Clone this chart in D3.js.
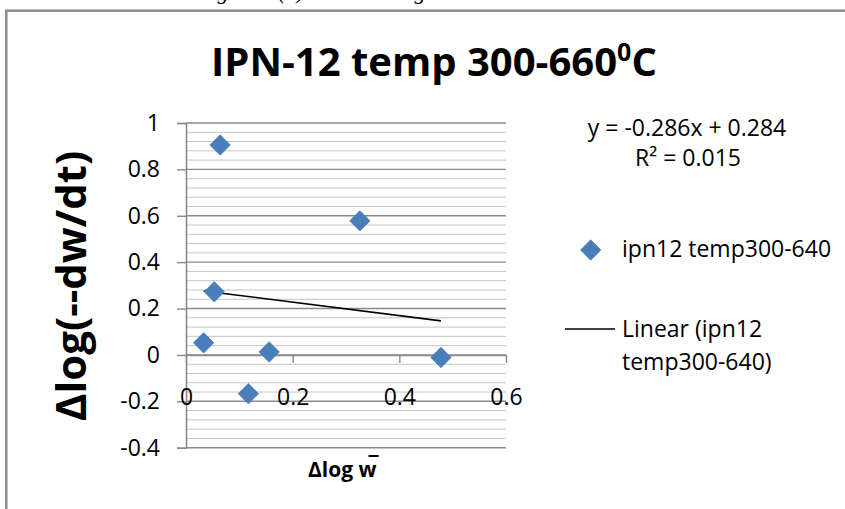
<!DOCTYPE html>
<html>
<head>
<meta charset="utf-8">
<script src="https://cdn.jsdelivr.net/npm/d3@7"></script>
<style>
  html, body { margin: 0; padding: 0; background: #fff; }
  svg { display: block; }
</style>
</head>
<body>
<svg id="chart" width="845" height="509"></svg>
<script>
// ---- data ----
var xValues = [0.064, 0.326, 0.053, 0.033, 0.156, 0.478, 0.117];
var yValues = [0.905, 0.578, 0.272, 0.052, 0.013, -0.011, -0.167];
var xTicks = [0, 0.2, 0.4, 0.6];
var yTicks = [-0.4, -0.2, 0, 0.2, 0.4, 0.6, 0.8, 1];
var seriesName = "ipn12 temp300-640";
var equationText = "y = -0.286x + 0.284";
var r2Text = "R² = 0.015";

var szFont = "'Open Sans', 'DejaVu Sans', sans-serif";
var szBlue = "#4a7ebb";

var svg = d3.select("#chart");

// scales
var x = d3.scaleLinear().domain([0, 0.6]).range([186, 506]);
var y = d3.scaleLinear().domain([-0.4, 1]).range([447.7, 123]);

// page text cut off at the top (only descenders visible)
var topBits = [{t: "g", x: 223}, {t: "(1)", x: 291}, {t: "g", x: 420}];
svg.selectAll("text.top").data(topBits).enter().append("text")
  .attr("x", d => d.x).attr("y", -1)
  .attr("text-anchor", "middle")
  .attr("style", "font-family:'Liberation Serif',serif;font-style:italic;font-size:22px;fill:#000")
  .text(d => d.t);

// chart frame
svg.append("rect")
  .attr("x", 6.3).attr("y", 10.7)
  .attr("width", 900).attr("height", 600)
  .attr("style", "fill:none;stroke:#8c8c8c;stroke-width:2.5");

// minor gridlines (0.04 steps)
var minor = d3.range(-0.4, 1.0001, 0.04).filter(v => Math.abs(Math.round(v / 0.2) * 0.2 - v) > 1e-6);
svg.append("g").selectAll("line").data(minor).enter().append("line")
  .attr("x1", x(0)).attr("x2", x(0.6))
  .attr("y1", d => y(d)).attr("y2", d => y(d))
  .attr("style", "stroke:#c4c4c4;stroke-width:1");

// major gridlines
svg.append("g").selectAll("line").data(yTicks).enter().append("line")
  .attr("x1", x(0)).attr("x2", x(0.6))
  .attr("y1", d => y(d)).attr("y2", d => y(d))
  .attr("style", "stroke:#8a8a8a;stroke-width:1.4");

// y axis
var yAxis = svg.append("g")
  .attr("transform", "translate(" + x(0) + ",0)")
  .call(d3.axisLeft(y).tickValues(yTicks).tickSize(9).tickPadding(17).tickFormat(d => String(d)));
yAxis.select(".domain").attr("style", "stroke:#8a8a8a;stroke-width:1.6");
yAxis.selectAll(".tick line").attr("style", "stroke:#8a8a8a;stroke-width:1.4");
yAxis.selectAll(".tick text")
  .attr("style", "font-family:" + szFont + ";font-size:23px;fill:#000");

// x axis crossing at y = 0, labels sit low
var xAxis = svg.append("g")
  .attr("transform", "translate(0," + y(0) + ")")
  .call(d3.axisBottom(x).tickValues(xTicks).tickSize(8).tickSizeOuter(0).tickFormat(d => String(d)));
xAxis.select(".domain").attr("style", "stroke:#8a8a8a;stroke-width:1.6");
xAxis.selectAll(".tick line").attr("style", "stroke:#8a8a8a;stroke-width:1.4");
xAxis.selectAll(".tick text")
  .attr("y", 405 - y(0)).attr("dy", null)
  .attr("style", "font-family:" + szFont + ";font-size:23px;fill:#000");

// linear trend line (least squares)
var pts = xValues.map((v, i) => [v, yValues[i]]);
var mx = d3.mean(xValues), my = d3.mean(yValues);
var sxy = d3.sum(pts, p => (p[0] - mx) * (p[1] - my));
var sxx = d3.sum(pts, p => (p[0] - mx) * (p[0] - mx));
var slope = sxy / sxx, icpt = my - slope * mx;
var xExt = d3.extent(xValues);
svg.append("path")
  .datum(xExt.map(v => [v, icpt + slope * v]))
  .attr("d", d3.line().x(d => x(d[0])).y(d => y(d[1])))
  .attr("style", "fill:none;stroke:#000;stroke-width:1.6");

// markers
var diamond = d3.symbol().type(d3.symbolSquare).size(210);
svg.append("g").selectAll("path").data(pts).enter().append("path")
  .attr("d", diamond)
  .attr("transform", d => "translate(" + x(d[0]) + "," + y(d[1]) + ") rotate(45)")
  .attr("style", "fill:" + szBlue + ";stroke:#4577b3;stroke-width:0.6");

// title
var title = svg.append("text")
  .attr("x", 434).attr("y", 76)
  .attr("text-anchor", "middle")
  .attr("style", "font-family:" + szFont + ";font-weight:bold;font-size:40px;fill:#000");
title.append("tspan").text("IPN-12 temp 300-660");
title.append("tspan").attr("dy", -15).attr("style", "font-size:25px").text("0");
title.append("tspan").attr("dy", 15).text("C");

// y axis title
svg.append("text")
  .attr("transform", "translate(86,286) rotate(-90)")
  .attr("text-anchor", "middle")
  .attr("style", "font-family:" + szFont + ";font-weight:bold;font-size:42px;fill:#000")
  .text("Δlog(--dw/dt)");

// x axis title, bar over the w drawn as a line
var xt = svg.append("text")
  .attr("x", 308).attr("y", 476.7)
  .attr("style", "font-family:" + szFont + ";font-weight:bold;font-size:21px;fill:#000")
  .text("Δlog w");
var xtEnd = 308 + xt.node().getComputedTextLength();
svg.append("line")
  .attr("x1", xtEnd - 8).attr("x2", xtEnd + 2)
  .attr("y1", 456).attr("y2", 456)
  .attr("style", "stroke:#000;stroke-width:2");

// trend equation
svg.append("text")
  .attr("x", 687).attr("y", 136)
  .attr("text-anchor", "middle")
  .attr("style", "font-family:" + szFont + ";font-size:23px;fill:#000")
  .text(equationText);
svg.append("text")
  .attr("x", 688).attr("y", 166)
  .attr("text-anchor", "middle")
  .attr("style", "font-family:" + szFont + ";font-size:23px;fill:#000")
  .text(r2Text);

// legend
var lg = svg.append("g");
lg.append("path")
  .attr("d", diamond)
  .attr("transform", "translate(590.7,250) rotate(45)")
  .attr("style", "fill:" + szBlue + ";stroke:#4577b3;stroke-width:0.6");
lg.append("text")
  .attr("x", 622).attr("y", 257)
  .attr("style", "font-family:" + szFont + ";font-size:23px;fill:#000")
  .text(seriesName);
lg.append("line")
  .attr("x1", 565).attr("x2", 615).attr("y1", 329).attr("y2", 329)
  .attr("style", "stroke:#000;stroke-width:1.6");
lg.append("text")
  .attr("x", 622).attr("y", 337)
  .attr("style", "font-family:" + szFont + ";font-size:23px;fill:#000")
  .text("Linear (ipn12");
lg.append("text")
  .attr("x", 622).attr("y", 370)
  .attr("style", "font-family:" + szFont + ";font-size:23px;fill:#000")
  .text("temp300-640)");
</script>
</body>
</html>
